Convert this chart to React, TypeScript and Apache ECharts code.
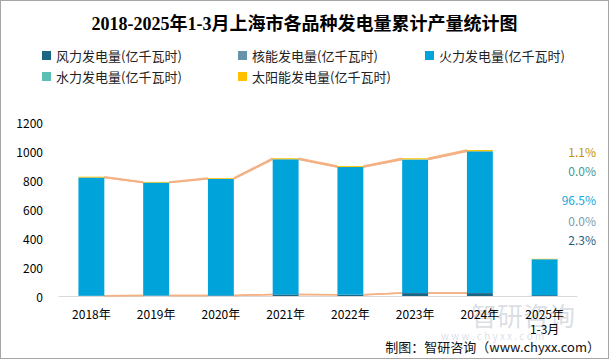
import React, { useEffect, useRef } from "react";
import * as echarts from "echarts";

const categories = ["2018年", "2019年", "2020年", "2021年", "2022年", "2023年", "2024年", "2025年\n1-3月"];
const windValues = [2, 3, 4, 11, 8, 20, 20, 6.0];
const nuclearValues = [0, 0, 0, 0, 0, 0, 0, 0];
const fireValues = [815, 779, 804, 932, 881, 922, 978, 247.6];
const hydroValues = [0, 0, 0, 0, 0, 0, 0, 0];
const solarValues = [6, 5, 6, 7, 7, 8, 9, 2.92];
const yTicks = [0, 200, 400, 600, 800, 1000, 1200];

const seriesNames = [
  "风力发电量(亿千瓦时)",
  "核能发电量(亿千瓦时)",
  "火力发电量(亿千瓦时)",
  "水力发电量(亿千瓦时)",
  "太阳能发电量(亿千瓦时)",
];
const colors = ["#1B6585", "#6693AA", "#00A3DA", "#5CBFB3", "#FFC000"];
const labelColors = ["#1F5F86", "#7D9DAF", "#13A8E0", "#3E9A98", "#C39200"];

const FONT = "'Noto Sans CJK SC', 'Noto Sans', sans-serif";

export default function App() {
  const ref = useRef<HTMLDivElement>(null);
  useEffect(() => {
    if (!ref.current) return;
    const chart = echarts.init(ref.current, undefined, { renderer: "svg" });
    const all = [windValues, nuclearValues, fireValues, hydroValues, solarValues];
    const n = categories.length;
    const cum: number[][] = [];
    for (let s = 0; s < all.length; s++) {
      cum.push(categories.map((_, i) => {
        let t = 0;
        for (let k = 0; k <= s; k++) t += all[k][i];
        return t;
      }));
    }
    const lineData: number[][] = [];
    for (let i = 0; i < n - 2; i++) {
      const row = [i];
      for (let s = 0; s < cum.length; s++) row.push(cum[s][i], cum[s][i + 1]);
      lineData.push(row);
    }
    const last = n - 1;
    const total = cum[cum.length - 1][last];
    const shares = all.map((a) => ((a[last] / total) * 100).toFixed(1) + "%");
    const shareY = [239, 220, 199, 170, 151];

    const legendPos = [
      { left: 41, top: 48 },
      { left: 237, top: 48 },
      { left: 424, top: 48 },
      { left: 41, top: 69 },
      { left: 237, top: 69 },
    ];

    const option: any = {
      animation: false,
      backgroundColor: "#ffffff",
      title: {
        text: "2018-2025年1-3月上海市各品种发电量累计产量统计图",
        left: "center",
        top: 9,
        textStyle: {
          fontFamily: "'Liberation Serif', 'Noto Sans CJK SC', serif",
          fontWeight: "bold",
          fontSize: 18,
          color: "#000",
        },
      },
      legend: seriesNames.map((name, i) => ({
        data: [name],
        left: legendPos[i].left,
        top: legendPos[i].top,
        icon: "rect",
        itemWidth: 9,
        itemHeight: 9,
        itemGap: 4,
        padding: 0,
        textStyle: { fontFamily: FONT, fontSize: 13, color: "#222" },
      })),
      grid: { left: 58, right: 31, top: 121, bottom: 62 },
      xAxis: {
        type: "category",
        data: categories,
        axisLine: { lineStyle: { color: "#D9D9D9" } },
        axisTick: { show: false },
        axisLabel: { fontFamily: FONT, fontSize: 12, color: "#000", margin: 10, lineHeight: 15 },
      },
      yAxis: {
        type: "value",
        min: yTicks[0],
        max: yTicks[yTicks.length - 1],
        interval: 200,
        splitLine: { show: false },
        axisLine: { show: false },
        axisTick: { show: false },
        axisLabel: {
          fontFamily: FONT,
          fontSize: 12,
          color: "#000",
          margin: 16,
          formatter: (v: number) => String(v),
        },
      },
      series: [
        ...seriesNames.map((name, s) => ({
          name,
          type: "bar",
          stack: "total",
          barWidth: "40%",
          data: all[s],
          itemStyle: { color: colors[s] },
          z: 3,
        })),
        {
          type: "custom",
          name: "serieslines",
          data: lineData,
          z: 2,
          silent: true,
          renderItem: (params: any, api: any) => {
            const i = api.value(0);
            const band = api.size([1, 0])[0];
            const half = (band * 0.4) / 2;
            const children: any[] = [];
            for (let s = 0; s < cum.length; s++) {
              const a = api.coord([i, api.value(1 + s * 2)]);
              const b = api.coord([i + 1, api.value(2 + s * 2)]);
              children.push({
                type: "line",
                shape: { x1: a[0] + half, y1: a[1], x2: b[0] - half, y2: b[1] },
                style: { stroke: "#F4B183", lineWidth: 1.5 },
              });
            }
            return { type: "group", children };
          },
        },
      ],
      graphic: [
        ...shares.map((t, s) => ({
          type: "text",
          right: 12,
          top: shareY[s] - 7,
          style: { text: t, fill: labelColors[s], fontFamily: FONT, fontSize: 12 },
        })),
        {
          type: "text",
          left: 470,
          top: 300,
          z: 0,
          style: { text: "智研咨询", fill: "rgba(150,160,175,0.35)", fontFamily: FONT, fontSize: 26 },
        },
        {
          type: "text",
          left: 440,
          top: 329,
          z: 0,
          style: { text: "w w w . c h y x x . c o m", fill: "rgba(150,160,175,0.35)", fontFamily: FONT, fontSize: 10 },
        },
        {
          type: "text",
          right: 8,
          top: 339,
          style: { text: "制图：智研咨询（www.chyxx.com）", fill: "#111", fontFamily: FONT, fontSize: 13 },
        },
      ],
    };
    chart.setOption(option);
    return () => chart.dispose();
  }, []);
  return (
    <div
      ref={ref}
      style={{
        position: "fixed",
        left: 0,
        top: 0,
        width: 609,
        height: 359,
        boxSizing: "border-box",
        border: "1px solid #A6A6A6",
        background: "#fff",
      }}
    />
  );
}
